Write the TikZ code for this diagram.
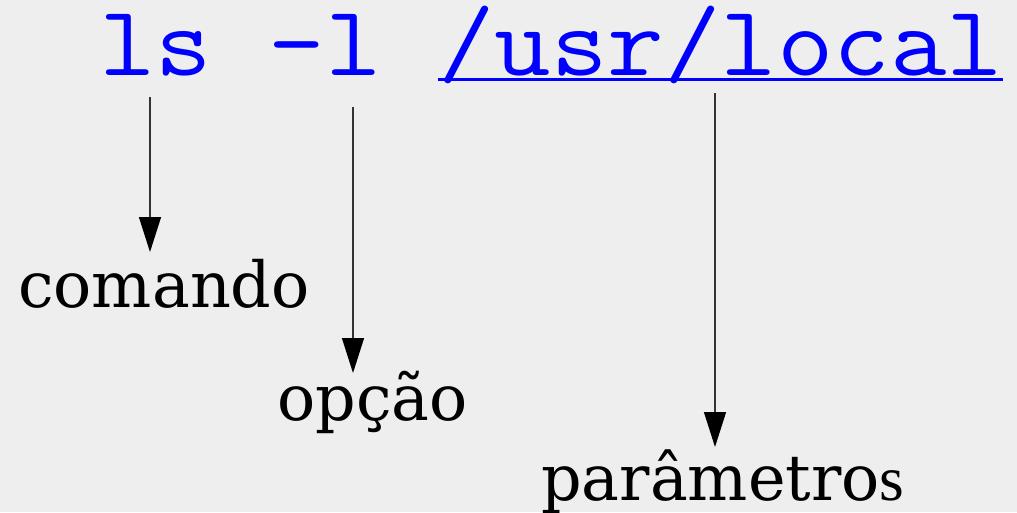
\documentclass[tikz,border=0pt]{standalone}
\usepackage{fontspec}
\setmainfont{DejaVu Serif}
\newfontfamily\timesfnt{Liberation Serif}
\usetikzlibrary{arrows.meta}
\definecolor{bgc}{HTML}{EEEEEE}
\definecolor{cmdblue}{RGB}{0,0,255}
\definecolor{linec}{HTML}{333333}
\newcommand{\codetxt}[1]{\scalebox{1.097}[1]{#1}}
\begin{document}
\begin{tikzpicture}[x=1pt,y=-1pt,
  code/.style={inner sep=0pt,anchor=base west,text=cmdblue,font=\ttfamily\fontsize{100}{110}\selectfont},
  lbl/.style={inner sep=0pt,anchor=base west,text=black,font=\fontsize{63.5}{70}\selectfont},
  pointer/.style={draw=linec,line width=1.3pt,-{Triangle[length=35pt,width=22pt,fill=black,color=black]}}]
\fill[bgc] (0,0) rectangle (1017,512);
\useasboundingbox (0,0) rectangle (1017,512);
\node[code] (cmd) at (99,75) {\codetxt{ls}};
\node[code] (opt) at (268.5,75) {\codetxt{-l}};
\node[code] (par) at (438,75) {\codetxt{/usr/local}};
\draw[cmdblue,line width=3pt] (par.base west) ++(0,4) coordinate (ulA) -- (1003,0 |- ulA) coordinate (ulB);
\node[lbl] (lcmd) at (18,307) {comando};
\node[lbl] (lopt) at (277,420) {opção};
\node[lbl] (lpar) at (541,500) {parâmetro{\timesfnt s}};
\coordinate (s1) at (150,97);  \coordinate (e1) at (150,252);
\coordinate (s2) at (353,107); \coordinate (e2) at (353,373);
\coordinate (s3) at (715,93);  \coordinate (e3) at (715,447);
\draw[pointer] (s1) -- (e1);
\draw[pointer] (s2) -- (e2);
\draw[pointer] (s3) -- (e3);
\end{tikzpicture}
\end{document}
